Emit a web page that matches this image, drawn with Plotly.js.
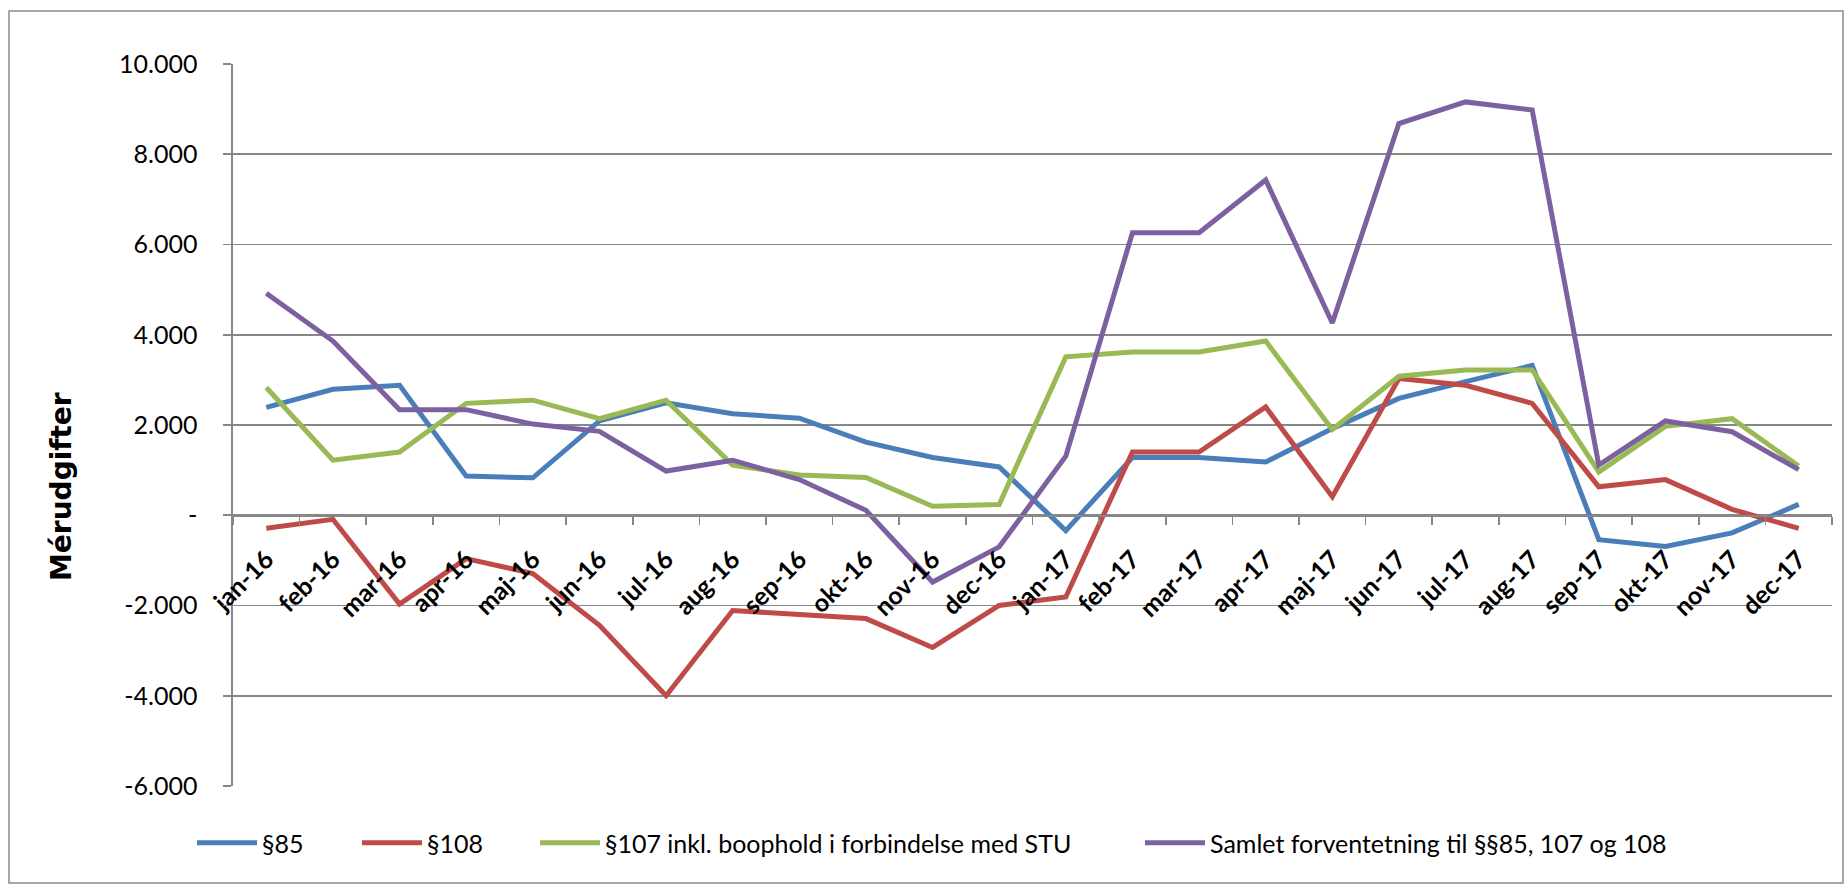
<!DOCTYPE html>
<html>
<head>
<meta charset="utf-8">
<script src="https://cdn.plot.ly/plotly-3.0.1.min.js"></script>
<style>
  html, body { margin: 0; padding: 0; background: #ffffff; }
  #chart { width: 1847px; height: 885px; }
</style>
</head>
<body>
<div id="chart"></div>
<script>
// Categories (months)
const months = ['jan-16','feb-16','mar-16','apr-16','maj-16','jun-16','jul-16','aug-16','sep-16','okt-16','nov-16','dec-16',
                'jan-17','feb-17','mar-17','apr-17','maj-17','jun-17','jul-17','aug-17','sep-17','okt-17','nov-17','dec-17'];

// Series values
const s85  = [2390, 2790, 2880, 870, 830, 2090, 2490, 2250, 2150, 1620, 1280, 1070,
              -340, 1280, 1280, 1180, 1920, 2590, 2960, 3320, -540, -690, -390, 240];
const s108 = [-290, -90, -1970, -960, -1290, -2440, -4000, -2110, -2200, -2290, -2930, -2000,
              -1810, 1400, 1400, 2400, 410, 3030, 2880, 2480, 630, 790, 130, -290];
const s107 = [2830, 1220, 1400, 2480, 2550, 2140, 2550, 1110, 890, 835, 200, 240,
              3510, 3620, 3620, 3860, 1900, 3080, 3220, 3220, 960, 1970, 2140, 1090];
const samlet = [4920, 3860, 2340, 2340, 2020, 1860, 980, 1220, 790, 110, -1480, -700,
                1310, 6260, 6260, 7430, 4260, 8680, 9160, 8980, 1110, 2090, 1850, 1010];

// Series names
const names = ['§85', '§108', '§107 inkl. boophold i forbindelse med STU', 'Samlet forventetning til §§85, 107 og 108'];

// Y tick labels
const yTickVals = [-6000, -4000, -2000, 0, 2000, 4000, 6000, 8000, 10000];
const yTickText = ['-6.000', '-4.000', '-2.000', '-', '2.000', '4.000', '6.000', '8.000', '10.000'];

const colors = ['#4A7EBB', '#BE4B48', '#98B954', '#7D60A0'];
const series = [s85, s108, s107, samlet];
const legendIds = ['legend', 'legend2', 'legend3', 'legend4'];

const traces = series.map((vals, i) => ({
  type: 'scatter',
  mode: 'lines',
  x: months,
  y: vals,
  name: names[i],
  legend: legendIds[i],
  line: { color: colors[i], width: 5 },
  hoverinfo: 'skip'
}));

// plot area in px: x 233..1832, y 64..786
const L = 233, R = 1832, T = 64, B = 786;
const W = 1847, H = 885;
const pw = R - L, ph = B - T;
const px = v => (v - L) / pw;
const py = v => (B - v) / ph;

const legendBase = {
  orientation: 'h',
  xanchor: 'left',
  yanchor: 'middle',
  y: py(843),
  itemwidth: 60,
  bgcolor: 'rgba(0,0,0,0)',
  font: { family: 'Lato, sans-serif', size: 25, color: '#000000' },
  traceorder: 'normal'
};
const legendStarts = [192, 357, 535, 1140];

const layout = {
  width: W,
  height: H,
  margin: { l: L, r: W - R, t: T, b: H - B, pad: 0 },
  paper_bgcolor: '#ffffff',
  plot_bgcolor: '#ffffff',
  showlegend: true,
  font: { family: 'Lato, sans-serif', size: 24, color: '#000000' },
  xaxis: {
    type: 'category',
    anchor: 'free',
    position: py(515.25),
    showline: true,
    linecolor: '#878787',
    linewidth: 1.6,
    showgrid: false,
    zeroline: false,
    ticks: 'outside',
    tickson: 'boundaries',
    ticklen: 8,
    tickwidth: 1.6,
    tickcolor: '#878787',
    tickangle: -45,
    ticklabelstandoff: 18,
    tickfont: { family: 'Lato, sans-serif', size: 25, color: '#000000', weight: 'bold' },
    range: [-0.5, months.length - 0.5],
    fixedrange: true
  },
  yaxis: {
    range: [-6000, 10000],
    tickvals: yTickVals,
    ticktext: yTickText,
    showline: true,
    linecolor: '#878787',
    linewidth: 1.6,
    showgrid: true,
    gridcolor: '#878787',
    gridwidth: 1.6,
    zeroline: false,
    ticks: 'outside',
    ticklen: 8,
    tickwidth: 1.6,
    tickcolor: '#878787',
    ticklabelstandoff: 21,
    tickfont: { family: 'Lato, sans-serif', size: 25, color: '#000000' },
    fixedrange: true
  },
  annotations: [{
    text: '<b>Mérudgifter</b>',
    xref: 'paper', yref: 'paper',
    x: px(61), y: py(487),
    xanchor: 'center', yanchor: 'middle',
    textangle: -90,
    showarrow: false,
    font: { family: 'DejaVu Sans, sans-serif', size: 28, color: '#000000' }
  }],
  shapes: [{
    type: 'rect',
    xref: 'paper', yref: 'paper',
    x0: px(9), x1: px(1843),
    y0: py(883), y1: py(11),
    line: { color: '#8C8C8C', width: 1.5 },
    fillcolor: 'rgba(0,0,0,0)',
    layer: 'below'
  }]
};

legendIds.forEach((id, i) => {
  layout[id] = Object.assign({}, legendBase, { x: px(legendStarts[i]) });
});

Plotly.newPlot('chart', traces, layout, { staticPlot: true, displayModeBar: false });
</script>
</body>
</html>
